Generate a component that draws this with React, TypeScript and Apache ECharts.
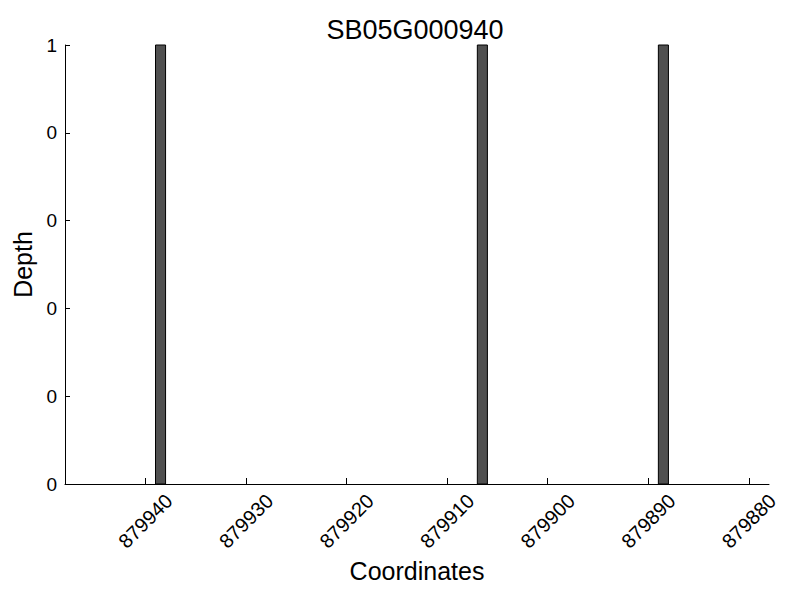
import React, { useEffect, useRef } from "react";
import * as echarts from "echarts";

const chartTitle = "SB05G000940";
const positions = [879938, 879906, 879888];
const depths = [1, 1, 1];
const xTicks = [879940, 879930, 879920, 879910, 879900, 879890, 879880];
const xMin = 879878;
const xMax = 879948;
const yTicks = [0, 0.2, 0.4, 0.6, 0.8, 1];

const FONT = "Liberation Sans";

export default function App() {
  const ref = useRef<HTMLDivElement>(null);
  useEffect(() => {
    if (!ref.current) return;
    const chart = echarts.init(ref.current, undefined, { renderer: "svg" });
    const data = positions.map((p, i) => [p, depths[i]]);
    chart.setOption({
      animation: false,
      backgroundColor: "#ffffff",
      title: {
        text: chartTitle,
        left: 410,
        top: 11,
        textAlign: "center",
        textStyle: { fontFamily: FONT, fontSize: 27, fontWeight: "normal", color: "#000" },
      },
      grid: { left: 65, right: 31, top: 45, bottom: 116, containLabel: false },
      xAxis: {
        type: "value",
        inverse: true,
        min: xMin,
        max: xMax,
        name: "Coordinates",
        nameLocation: "middle",
        nameGap: 67,
        nameTextStyle: { fontFamily: FONT, fontSize: 25, color: "#000" },
        axisLine: { show: true, lineStyle: { color: "#000", width: 1 } },
        axisTick: { show: true, inside: true, length: 6, customValues: xTicks, lineStyle: { color: "#000" } },
        axisLabel: {
          customValues: xTicks,
          rotate: 45,
          align: "center",
          verticalAlign: "middle",
          margin: 37,
          fontFamily: FONT,
          fontSize: 20,
          color: "#000",
          formatter: (v: number) => String(Math.round(v)),
        },
        splitLine: { show: false },
      },
      yAxis: {
        type: "value",
        min: 0,
        max: 1,
        interval: 0.2,
        name: "Depth",
        nameLocation: "middle",
        nameGap: 25,
        nameTextStyle: { fontFamily: FONT, fontSize: 25, color: "#000" },
        axisLine: { show: true, lineStyle: { color: "#000", width: 1 } },
        axisTick: { show: true, inside: true, length: 5, customValues: yTicks, lineStyle: { color: "#000" } },
        axisLabel: {
          customValues: yTicks,
          margin: 8,
          fontFamily: FONT,
          fontSize: 19,
          color: "#000",
          formatter: (v: number) => String(Math.floor(v + 1e-9)),
        },
        splitLine: { show: false },
      },
      series: [
        {
          type: "custom",
          data,
          encode: { x: 0, y: 1 },
          renderItem: (params: any, api: any) => {
            const x0 = api.value(0);
            const h = api.value(1);
            const p1 = api.coord([x0, h]);
            const p2 = api.coord([x0 + 1, 0]);
            return {
              type: "rect",
              shape: {
                x: Math.min(p1[0], p2[0]),
                y: p1[1],
                width: Math.abs(p2[0] - p1[0]),
                height: p2[1] - p1[1],
              },
              style: { fill: "#505050", stroke: "#000", lineWidth: 1 },
            };
          },
        },
      ],
    });
    return () => chart.dispose();
  }, []);
  return <div ref={ref} style={{ width: 800, height: 600, position: "absolute", left: 0, top: 0 }} />;
}
